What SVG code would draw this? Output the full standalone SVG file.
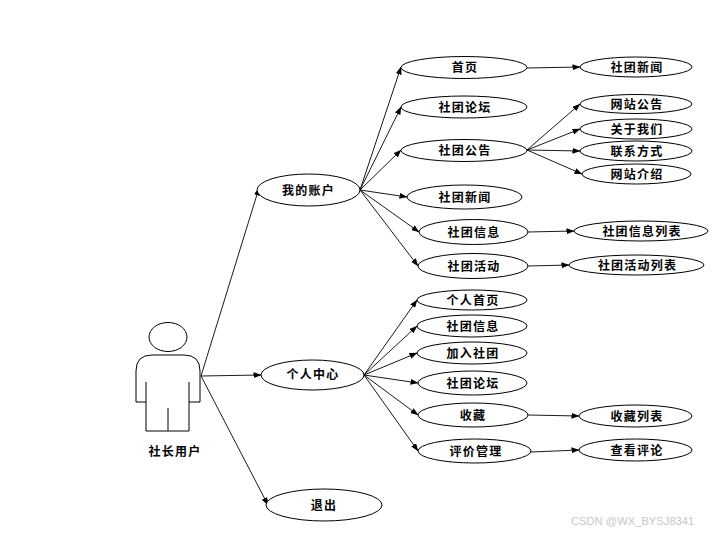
<svg xmlns="http://www.w3.org/2000/svg" width="716" height="533" viewBox="0 0 716 533">
<style>
.n{fill:#fff;stroke:#000;stroke-width:1}
.t{font-family:"Noto Sans CJK SC","Liberation Sans",sans-serif;font-size:12px;font-weight:700;fill:#000;text-anchor:middle;letter-spacing:1.2px}
.c{fill:none;stroke:#000;stroke-width:.9;marker-end:url(#a)}
.w{font-family:"Liberation Sans",sans-serif;font-size:11.2px;fill:#c8c8c8}
</style>
<defs><marker id="a" markerUnits="userSpaceOnUse" markerWidth="8" markerHeight="7" refX="7.5" refY="3" orient="auto"><path d="M0 0L8 3L0 6z" fill="#000"/></marker></defs>
<rect width="716" height="533" fill="#fff"/>
<g id="connectors">
<path class="c" d="M201 376L259 188"/>
<path class="c" d="M201 376L261 375"/>
<path class="c" d="M201 376L268 505"/>
<path class="c" d="M360 190L401 67"/>
<path class="c" d="M360 190L401 107"/>
<path class="c" d="M360 190L401 150"/>
<path class="c" d="M360 190L407 197"/>
<path class="c" d="M360 190L419 232"/>
<path class="c" d="M360 190L418 266"/>
<path class="c" d="M527 68L580 67"/>
<path class="c" d="M527 150L580 104"/>
<path class="c" d="M527 150L580 129"/>
<path class="c" d="M527 150L580 151"/>
<path class="c" d="M527 150L582 174"/>
<path class="c" d="M528 232L574 231"/>
<path class="c" d="M528 266L569 265"/>
<path class="c" d="M364 375L417 300"/>
<path class="c" d="M364 375L417 326"/>
<path class="c" d="M364 375L417 353"/>
<path class="c" d="M364 375L418 383"/>
<path class="c" d="M364 375L418 415"/>
<path class="c" d="M364 375L418 451"/>
<path class="c" d="M528 415L579 416"/>
<path class="c" d="M531 452L579 450"/>
</g>
<g id="actor">
<ellipse class="n" cx="168" cy="337" rx="19" ry="14.5"/>
<path class="n" d="M146 402H136V371Q136 355 152 355H184Q200 355 200 371V402H189V431H146Z"/>
<path class="n" d="M146 382V402M189 382V402M168 408V431" fill="none"/>
<text class="t" x="175" y="456">社长用户</text>
</g>
<g id="n1"><ellipse class="n" cx="308.500" cy="190" rx="51.500" ry="16"/><text class="t" x="308.500" y="195">我的账户</text></g>
<g id="n2"><ellipse class="n" cx="312.500" cy="375" rx="51.500" ry="15"/><text class="t" x="313" y="379">个人中心</text></g>
<g id="n3"><ellipse class="n" cx="324" cy="505" rx="58" ry="16"/><text class="t" x="324" y="510">退出</text></g>
<g id="n4"><ellipse class="n" cx="464" cy="67.500" rx="63" ry="11"/><text class="t" x="465" y="72">首页</text></g>
<g id="n5"><ellipse class="n" cx="464" cy="107" rx="63" ry="11"/><text class="t" x="465" y="112">社团论坛</text></g>
<g id="n6"><ellipse class="n" cx="464" cy="150.500" rx="63" ry="11"/><text class="t" x="465" y="155">社团公告</text></g>
<g id="n7"><ellipse class="n" cx="464.500" cy="197" rx="57.500" ry="12"/><text class="t" x="465" y="202">社团新闻</text></g>
<g id="n8"><ellipse class="n" cx="473.500" cy="232" rx="54.500" ry="12.500"/><text class="t" x="474" y="237">社团信息</text></g>
<g id="n9"><ellipse class="n" cx="473" cy="266" rx="55" ry="12.500"/><text class="t" x="474" y="271">社团活动</text></g>
<g id="n10"><ellipse class="n" cx="636" cy="67" rx="56" ry="10"/><text class="t" x="637" y="72">社团新闻</text></g>
<g id="n11"><ellipse class="n" cx="636" cy="104" rx="56" ry="9.500"/><text class="t" x="637" y="109">网站公告</text></g>
<g id="n12"><ellipse class="n" cx="636" cy="129" rx="56" ry="10"/><text class="t" x="637" y="134">关于我们</text></g>
<g id="n13"><ellipse class="n" cx="636" cy="151" rx="56" ry="10"/><text class="t" x="637" y="156">联系方式</text></g>
<g id="n14"><ellipse class="n" cx="636.500" cy="174" rx="54.500" ry="10"/><text class="t" x="637" y="179">网站介绍</text></g>
<g id="n15"><ellipse class="n" cx="641" cy="231" rx="67" ry="10"/><text class="t" x="642" y="236">社团信息列表</text></g>
<g id="n16"><ellipse class="n" cx="636.500" cy="265" rx="67.500" ry="10"/><text class="t" x="637.500" y="270">社团活动列表</text></g>
<g id="n17"><ellipse class="n" cx="472" cy="300" rx="55" ry="10"/><text class="t" x="473" y="305">个人首页</text></g>
<g id="n18"><ellipse class="n" cx="472" cy="326" rx="55" ry="11"/><text class="t" x="473" y="331">社团信息</text></g>
<g id="n19"><ellipse class="n" cx="472" cy="353" rx="55" ry="11"/><text class="t" x="473" y="358">加入社团</text></g>
<g id="n20"><ellipse class="n" cx="472.500" cy="383" rx="54.500" ry="12"/><text class="t" x="473" y="388">社团论坛</text></g>
<g id="n21"><ellipse class="n" cx="473" cy="415" rx="55" ry="12"/><text class="t" x="473" y="420">收藏</text></g>
<g id="n22"><ellipse class="n" cx="474.500" cy="451" rx="56.500" ry="12"/><text class="t" x="476" y="456">评价管理</text></g>
<g id="n23"><ellipse class="n" cx="635.500" cy="416" rx="56.500" ry="11"/><text class="t" x="637" y="421">收藏列表</text></g>
<g id="n24"><ellipse class="n" cx="635.500" cy="450" rx="56.500" ry="11"/><text class="t" x="637" y="455">查看评论</text></g>
<text class="w" x="571" y="525">CSDN @WX_BYSJ8341</text>
</svg>
